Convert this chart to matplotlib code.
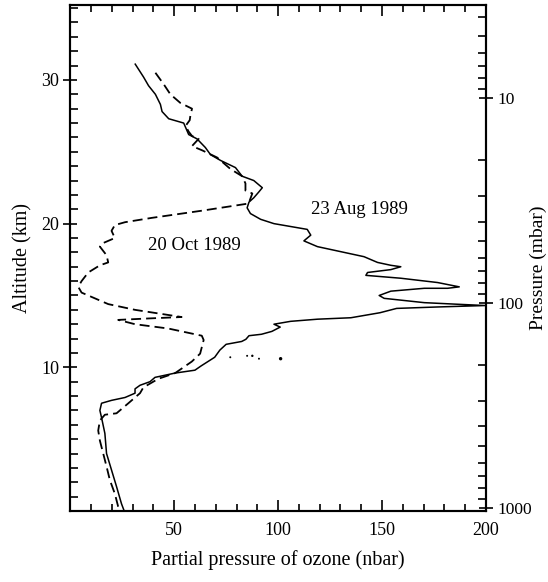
import matplotlib
matplotlib.use('Agg')
import matplotlib.pyplot as plt
import matplotlib.ticker as mticker

plt.rcParams['font.family'] = ['Liberation Serif', 'DejaVu Serif']

# 23 Aug 1989 profile (solid): ozone partial pressure (nbar), altitude (km)
aug_ozone = [31.3, 35.3, 37.7, 41.0, 43.4, 44.2, 47.4, 54.6, 57.0, 61.0, 65.0, 67.5,
             72.3, 79.5, 82.7, 88.3, 92.4, 90.7, 88.3, 86.0, 85.1, 86.7, 91.6, 98.0,
             106.0, 114.0, 115.7, 112.4, 118.9, 131.7, 141.3, 147.8, 154.2, 159.0,
             154.2, 143.0, 142.2, 159.0, 176.7, 187.1, 181.5, 170.3, 154.2, 148.6,
             151.0, 170.3, 184.7, 199.5, 176.7, 157.0, 149.0, 135.0, 119.0, 106.0,
             98.0, 101.0, 97.0, 92.0, 86.0, 84.5, 82.5, 75.0, 72.0, 69.5, 63.0, 60.0,
             50.5, 40.8, 38.4, 33.6, 31.2, 31.2, 26.4, 19.9, 15.1, 14.3, 15.1, 16.7,
             17.5, 19.9, 22.3, 24.7, 26.0]
aug_alt = [31.1, 30.2, 29.6, 29.0, 28.3, 27.8, 27.3, 27.0, 26.2, 25.9, 25.3, 24.8,
           24.4, 23.9, 23.3, 23.0, 22.5, 22.2, 21.8, 21.5, 21.1, 20.7, 20.3, 20.0,
           19.8, 19.6, 19.2, 18.8, 18.4, 18.0, 17.7, 17.3, 17.1, 17.0,
           16.8, 16.6, 16.4, 16.2, 15.9, 15.6, 15.5, 15.5, 15.3, 15.0,
           14.8, 14.5, 14.4, 14.3, 14.2, 14.1, 13.8, 13.45, 13.35, 13.2,
           13.0, 12.8, 12.5, 12.3, 12.2, 11.95, 11.8, 11.6, 11.2, 10.7, 10.1, 9.8,
           9.6, 9.3, 9.0, 8.75, 8.5, 8.2, 7.9, 7.7, 7.5, 7.0, 6.5, 5.4,
           4.0, 2.85, 1.7, 0.5, 0.0]

# 20 Oct 1989 profile (dashed)
oct_ozone = [41.0, 45.0, 48.2, 53.0, 58.6, 57.8, 57.5, 55.5, 57.0, 58.6, 61.8, 58.6,
             63.5, 70.7, 75.5, 77.1, 82.7, 84.3, 84.3, 87.6, 85.8, 63.3, 39.2, 26.4,
             21.5, 19.9, 21.5, 15.1, 14.3, 17.5, 18.3, 14.3, 8.7, 5.5, 3.9, 5.5,
             10.3, 18.3, 31.2, 53.6, 37.6, 23.1, 31.2, 47.2, 63.3, 64.2, 62.5, 58.5,
             50.5, 42.4, 35.2, 33.6, 28.0, 22.3, 16.7, 14.3, 13.5, 14.3, 15.9, 17.5,
             19.1, 21.5, 23.1, 24.0]
oct_alt = [30.5, 29.7, 29.0, 28.4, 28.0, 27.5, 27.2, 26.8, 26.4, 26.1, 25.9, 25.4,
           25.1, 24.6, 24.0, 23.8, 23.3, 22.8, 22.3, 22.1, 21.4, 20.9, 20.4, 20.1,
           19.9, 19.5, 19.0, 18.6, 18.4, 17.8, 17.3, 17.1, 16.6, 16.0, 15.6, 15.2,
           14.9, 14.4, 14.0, 13.5, 13.4, 13.3, 13.0, 12.7, 12.2, 11.9, 10.95, 10.4,
           9.6, 9.2, 8.6, 8.2, 7.5, 6.8, 6.7, 6.3, 5.6, 4.9, 4.0, 3.1,
           2.15, 1.2, 0.3, 0.0]

# stray dots in the original figure
dot_ozone = [77.0, 85.1, 87.6, 90.8, 101.2]
dot_alt = [10.7, 10.8, 10.8, 10.6, 10.6]

x_ticks = [50, 100, 150, 200]
alt_ticks = [10, 20, 30]
p_ticks = [10, 100, 1000]

fig = plt.figure(figsize=(5.48, 5.82), dpi=100)
ax = fig.add_axes([0.128, 0.122, 0.759, 0.869])

ax.plot(aug_ozone, aug_alt, color='black', lw=1.1)
ax.plot(oct_ozone, oct_alt, color='black', lw=1.3, linestyle=(0, (5.5, 2.8)))
ax.scatter(dot_ozone, dot_alt, s=[2, 2, 3, 2, 6], color='black', lw=0)

ax.text(139, 21.0, '23 Aug 1989', fontsize=13.5, ha='center', va='center')
ax.text(59.6, 18.5, '20 Oct 1989', fontsize=13.5, ha='center', va='center')

ax.set_xlim(0, 200)
ax.set_ylim(0, 35.2)
ax.set_xticks(x_ticks)
ax.set_yticks(alt_ticks)
ax.xaxis.set_minor_locator(mticker.MultipleLocator(10))
ax.yaxis.set_minor_locator(mticker.MultipleLocator(1))
ax.tick_params(which='both', direction='in', top=True, right=False, width=1.2, labelsize=13)
ax.tick_params(axis='x', which='major', length=8, pad=8)
ax.tick_params(axis='x', which='minor', length=5)
ax.tick_params(axis='y', which='major', direction='inout', length=10, pad=3)
ax.tick_params(axis='y', which='minor', length=6)
for s in ax.spines.values():
    s.set_linewidth(1.5)

ax.set_xlabel('Partial pressure of ozone (nbar)', fontsize=14.5, labelpad=8)
ax.set_ylabel('Altitude (km)', fontsize=14.5, labelpad=6)

ax2 = ax.twinx()
ax2.set_yscale('log')
ax2.set_ylim(1034, 3.52)
ax2.set_yticks(p_ticks)
ax2.yaxis.set_major_formatter(mticker.FuncFormatter(lambda v, p: '%d' % v))
ax2.yaxis.set_minor_formatter(mticker.NullFormatter())
ax2.tick_params(which='both', direction='in', width=1.2, labelsize=12.5)
ax2.tick_params(which='major', direction='inout', length=10, pad=3)
ax2.tick_params(which='minor', length=6)
for s in ax2.spines.values():
    s.set_linewidth(1.5)
ax2.set_ylabel('Pressure (mbar)', fontsize=14, rotation=90)
ax2.yaxis.set_label_coords(1.104, 0.48)

fig.savefig('out.png', dpi=100)
